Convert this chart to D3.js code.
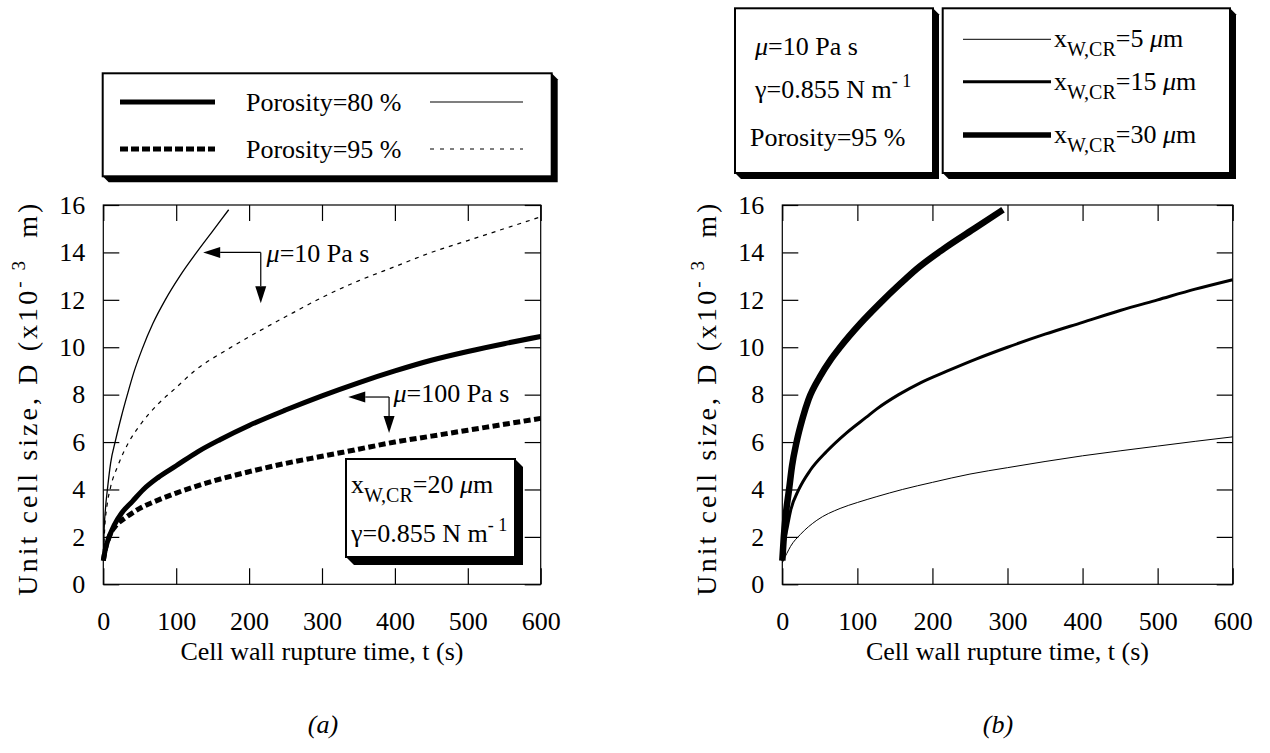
<!DOCTYPE html>
<html>
<head>
<meta charset="utf-8">
<script src="https://cdn.jsdelivr.net/npm/d3@7"></script>
<style>
body { margin: 0; background: #fff; }
svg { display: block; font-family: "Liberation Serif", "Times New Roman", serif; }
text { white-space: pre; }
</style>
</head>
<body>
<script>
const width = 1270;
const height = 753;

// axis ticks (both panels)
const xTicks = [0, 100, 200, 300, 400, 500, 600];
const yTicks = [0, 2, 4, 6, 8, 10, 12, 14, 16];

// panel (a): [t (s), D (x10^-3 m)]
const por80mu10 = [[0, 1], [1, 2.2], [3, 3.2], [6, 4.1], [10, 5.1], [17, 6.1], [25, 7.1], [33, 8], [42, 8.95], [53, 9.9], [68, 11], [85, 12], [105, 13], [128, 14], [150, 14.9], [172, 15.8]];
const por95mu10 = [[0, 1], [2, 2.4], [5, 3.3], [10, 4.1], [20, 5.0], [35, 6.0], [50, 6.7], [75, 7.6], [100, 8.3], [125, 9.0], [170, 9.9], [215, 10.7], [260, 11.45], [300, 12.1], [350, 12.8], [400, 13.4], [450, 14.0], [500, 14.5], [550, 15.0], [600, 15.5]];
const por80mu100 = [[0, 1], [3, 1.5], [8, 2], [15, 2.5], [25, 3.0], [40, 3.5], [55, 4.0], [75, 4.5], [100, 5.0], [130, 5.6], [160, 6.1], [200, 6.7], [250, 7.35], [300, 7.95], [350, 8.5], [400, 9.0], [450, 9.45], [500, 9.82], [550, 10.15], [600, 10.45]];
const por95mu100 = [[0, 1], [3, 1.5], [8, 2], [18, 2.5], [30, 2.8], [50, 3.2], [75, 3.55], [100, 3.85], [150, 4.35], [200, 4.75], [250, 5.1], [300, 5.4], [350, 5.7], [400, 6.0], [450, 6.25], [500, 6.5], [550, 6.75], [600, 7.0]];

// panel (b)
const xw5 = [[0, 0.9], [2, 1.05], [6, 1.3], [11, 1.6], [24, 2.1], [46, 2.7], [77, 3.2], [100, 3.45], [126, 3.7], [160, 4.0], [200, 4.3], [250, 4.65], [300, 4.92], [350, 5.18], [400, 5.42], [450, 5.63], [500, 5.83], [550, 6.03], [600, 6.22]];
const xw15 = [[0, 1], [2, 1.6], [6.6, 2.4], [11, 3.1], [22, 4], [37, 4.8], [59, 5.6], [86, 6.4], [112, 7.05], [126, 7.4], [155, 8.0], [184, 8.5], [220, 9.0], [258, 9.5], [300, 10.0], [350, 10.55], [400, 11.05], [450, 11.55], [500, 12.0], [550, 12.45], [600, 12.85]];
const xw30 = [[0, 1], [2, 2], [4.5, 2.9], [9, 4], [13, 5], [19, 6], [27, 7], [35, 7.8], [50, 8.75], [65, 9.5], [77, 10], [104, 11], [130, 11.85], [158, 12.7], [179, 13.3], [215, 14.15], [258, 15.05], [294, 15.8]];

const svg = d3.select('body').append('svg')
    .attr('width', width)
    .attr('height', height);

const FS = 26;

function rich(g, x, y, parts, opts = {}) {
    const text = g.append('text')
        .attr('x', x)
        .attr('y', y)
        .attr('font-size', opts.size || FS)
        .attr('text-anchor', opts.anchor || 'start');
    if (opts.transform) text.attr('transform', opts.transform);
    if (opts.textLength) text.attr('textLength', opts.textLength).attr('lengthAdjust', 'spacing');
    let cur = 0;
    parts.forEach(p => {
        const shift = p.shift || 0;
        text.append('tspan')
            .attr('dy', shift - cur)
            .attr('font-size', p.size || opts.size || FS)
            .attr('font-style', p.italic ? 'italic' : null)
            .text(p.t);
        cur = shift;
    });
    return text;
}

function shadowBox(x0, y0, w, h, off = 6) {
    svg.append('polygon')
        .attr('points', [[x0 + w, y0], [x0 + w + off, y0 + off], [x0 + w + off, y0 + h + off], [x0 + off, y0 + h + off], [x0, y0 + h]].join(' '))
        .attr('fill', '#000');
    svg.append('rect')
        .attr('x', x0).attr('y', y0).attr('width', w).attr('height', h)
        .attr('fill', '#fff').attr('stroke', '#000').attr('stroke-width', 2);
}

function panel(left, right, top, bottom) {
    const x = d3.scaleLinear().domain([0, 600]).range([left, right]);
    const y = d3.scaleLinear().domain([0, 16]).range([bottom, top]);
    const g = svg.append('g');

    const styleAxis = sel => {
        sel.select('.domain').remove();
        sel.selectAll('line').attr('stroke', '#000').attr('stroke-width', 1.2);
        sel.attr('font-family', null).attr('font-size', FS);
        sel.selectAll('text').attr('fill', '#000');
    };

    g.append('g').attr('transform', `translate(0,${bottom})`)
        .call(d3.axisBottom(x).tickValues(xTicks).tickSize(-16).tickPadding(27))
        .call(styleAxis);
    g.append('g').attr('transform', `translate(0,${top})`)
        .call(d3.axisTop(x).tickValues(xTicks).tickSize(-16).tickFormat(''))
        .call(styleAxis);
    g.append('g').attr('transform', `translate(${left},0)`)
        .call(d3.axisLeft(y).tickValues(yTicks).tickSize(-16).tickPadding(18))
        .call(styleAxis);
    g.append('g').attr('transform', `translate(${right},0)`)
        .call(d3.axisRight(y).tickValues(yTicks).tickSize(-16).tickFormat(''))
        .call(styleAxis);

    g.append('rect')
        .attr('x', left).attr('y', top)
        .attr('width', right - left).attr('height', bottom - top)
        .attr('fill', 'none').attr('stroke', '#000').attr('stroke-width', 1.2);

    g.append('text')
        .attr('x', (left + right) / 2).attr('y', 660)
        .attr('text-anchor', 'middle').attr('font-size', FS)
        .text('Cell wall rupture time, t (s)');

    const yl = left - 66;
    const yc = (top + bottom) / 2 + 5;
    rich(g, yl, yc, [
        { t: 'Unit cell size, D (x10' },
        { t: '- 3', size: 19, shift: -12 },
        { t: '  m)' }
    ], { anchor: 'middle', size: 28, textLength: 392, transform: `rotate(-90,${yl},${yc})` });

    return { g, x, y };
}

function drawLine(p, data, w, dash) {
    const line = d3.line()
        .x(d => p.x(d[0]))
        .y(d => p.y(d[1]))
        .curve(d3.curveMonotoneX);
    p.g.append('path')
        .datum(data)
        .attr('d', line)
        .attr('fill', 'none')
        .attr('stroke', '#000')
        .attr('stroke-width', w)
        .attr('stroke-dasharray', dash || null)
        .attr('stroke-linejoin', 'round');
}

function arrow(g, x1, y1, x2, y2) {
    // line from (x1,y1) to tip (x2,y2) with filled head
    const a = Math.atan2(y2 - y1, x2 - x1);
    const len = 17, hw = 5.5;
    const bx = x2 - len * Math.cos(a), by = y2 - len * Math.sin(a);
    g.append('line')
        .attr('x1', x1).attr('y1', y1).attr('x2', bx).attr('y2', by)
        .attr('stroke', '#000').attr('stroke-width', 1.2);
    g.append('polygon')
        .attr('points', [[x2, y2],
            [bx + hw * Math.sin(a), by - hw * Math.cos(a)],
            [bx - hw * Math.sin(a), by + hw * Math.cos(a)]].join(' '))
        .attr('fill', '#000');
}

// ---------- panel (a)
const pa = panel(103.3, 540.7, 205, 584.3);
drawLine(pa, por95mu10, 1.2, '4,5');
drawLine(pa, por80mu10, 1.3);
drawLine(pa, por95mu100, 5, '7,3.5');
drawLine(pa, por80mu100, 5);

// annotations
const ann = pa.g.append('g');
arrow(ann, pa.x(216), pa.y(14), pa.x(137), pa.y(14));
arrow(ann, pa.x(216), pa.y(14), pa.x(216), pa.y(11.86));
rich(ann, pa.x(224), pa.y(13.6), [{ t: 'μ', italic: true }, { t: '=10 Pa s' }]);
arrow(ann, pa.x(392), pa.y(7.9), pa.x(336), pa.y(7.9));
arrow(ann, pa.x(392), pa.y(7.9), pa.x(392), pa.y(6.38));
rich(ann, pa.x(398), pa.y(7.7), [{ t: 'μ', italic: true }, { t: '=100 Pa s' }]);

shadowBox(346, 459, 169, 98, 8);
rich(svg, 351, 493, [{ t: 'x' }, { t: 'W,CR', size: 20, shift: 9 }, { t: '=20 ' }, { t: 'μ', italic: true }, { t: 'm' }]);
rich(svg, 351, 542, [{ t: 'γ=0.855 N m' }, { t: '- 1', size: 18, shift: -11 }]);

// legend (a)
shadowBox(102.7, 73.3, 449, 103, 6);
const legA = [
    { y: 102, label: 'Porosity=80 %', thick: null, thin: null },
    { y: 149, label: 'Porosity=95 %', thick: '8,3', thin: '4,6' }
];
legA.forEach(d => {
    svg.append('line').attr('x1', 120).attr('x2', 215).attr('y1', d.y).attr('y2', d.y)
        .attr('stroke', '#000').attr('stroke-width', 5).attr('stroke-dasharray', d.thick);
    svg.append('line').attr('x1', 430).attr('x2', 523).attr('y1', d.y).attr('y2', d.y)
        .attr('stroke', '#000').attr('stroke-width', 1.2).attr('stroke-dasharray', d.thin);
    svg.append('text').attr('x', 246).attr('y', d.y + 9).attr('font-size', FS).text(d.label);
});

// ---------- panel (b)
const pb = panel(782.3, 1232.7, 205, 584.3);
drawLine(pb, xw5, 1);
drawLine(pb, xw15, 3);
drawLine(pb, xw30, 6.5);

shadowBox(735, 8.3, 198, 164.7, 6);
rich(svg, 755, 55, [{ t: 'μ', italic: true }, { t: '=10 Pa s' }]);
rich(svg, 755, 98, [{ t: 'γ=0.855 N m' }, { t: '- 1', size: 18, shift: -11 }]);
svg.append('text').attr('x', 750).attr('y', 146).attr('font-size', FS).text('Porosity=95 %');

shadowBox(942.7, 8.3, 287.3, 164.7, 6);
const legB = [
    { y: 39.3, w: 1, v: '5' },
    { y: 81.7, w: 3, v: '15' },
    { y: 135, w: 5.5, v: '30' }
];
legB.forEach(d => {
    svg.append('line').attr('x1', 963).attr('x2', 1051).attr('y1', d.y).attr('y2', d.y)
        .attr('stroke', '#000').attr('stroke-width', d.w);
    rich(svg, 1054, d.y + 8, [{ t: 'x' }, { t: 'W,CR', size: 20, shift: 9 }, { t: '=' + d.v + ' ' }, { t: 'μ', italic: true }, { t: 'm' }]);
});

// panel captions
svg.append('text').attr('x', 323).attr('y', 733).attr('text-anchor', 'middle')
    .attr('font-size', FS).attr('font-style', 'italic').text('(a)');
svg.append('text').attr('x', 998).attr('y', 733).attr('text-anchor', 'middle')
    .attr('font-size', FS).attr('font-style', 'italic').text('(b)');
</script>
</body>
</html>
